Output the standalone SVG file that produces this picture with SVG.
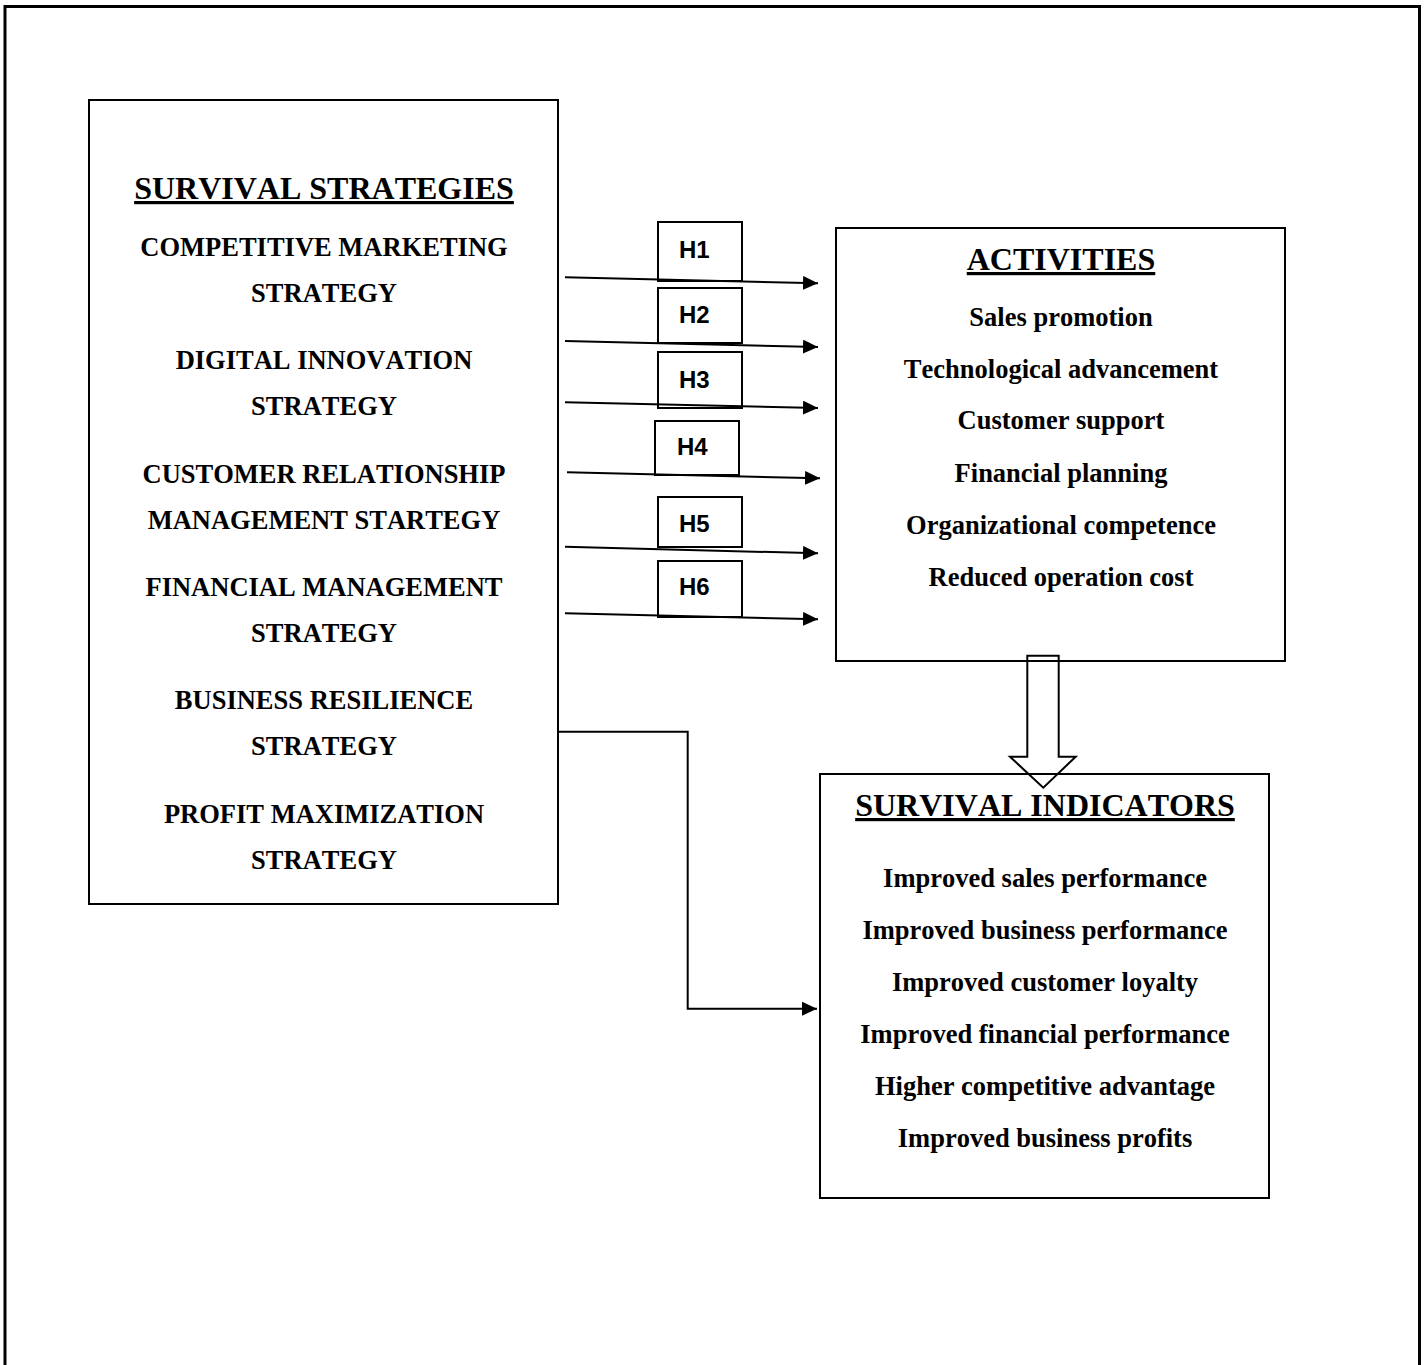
<svg xmlns="http://www.w3.org/2000/svg" width="1426" height="1365" viewBox="0 0 1426 1365">
  <style>
    text { font-kerning: none; }
    .box { fill: #ffffff; stroke: #000000; stroke-width: 2; }
    .frame { fill: none; stroke: #000000; stroke-width: 3; }
    .hbox { fill: #ffffff; stroke: #000000; stroke-width: 2; }
    .link { fill: none; stroke: #000000; stroke-width: 2; }
    .title { font-family: "Liberation Serif", "Times New Roman", serif; font-weight: bold; font-size: 32px; text-decoration: underline; text-anchor: middle; fill: #000; }
    .item { font-family: "Liberation Serif", "Times New Roman", serif; font-weight: bold; font-size: 26.5px; text-anchor: middle; fill: #000; }
    .hlabel { font-family: "Liberation Sans", Arial, sans-serif; font-weight: bold; font-size: 24px; fill: #000; }
  </style>
  <defs>
    <marker id="arrow" markerWidth="16" markerHeight="14" refX="15" refY="7" orient="auto" markerUnits="userSpaceOnUse">
      <path d="M0,0 L15,7 L0,14 Z" fill="#000"/>
    </marker>
  </defs>

  <rect width="1426" height="1365" fill="#ffffff"/>

  <!-- page frame (open at the bottom) -->
  <path class="frame" d="M5,1370 L5,6.5 L1419.5,6.5 L1419.5,1370"/>

  <!-- strategies -->
  <g id="node-strategies">
    <rect class="box" x="89" y="100" width="469" height="804"/>
    <text class="title" x="324" y="199">SURVIVAL STRATEGIES</text>
    <text class="item" x="324" y="256">COMPETITIVE MARKETING</text>
    <text class="item" x="324" y="302">STRATEGY</text>
    <text class="item" x="324" y="369">DIGITAL INNOVATION</text>
    <text class="item" x="324" y="415">STRATEGY</text>
    <text class="item" x="324" y="483">CUSTOMER RELATIONSHIP</text>
    <text class="item" x="324" y="529">MANAGEMENT STARTEGY</text>
    <text class="item" x="324" y="596">FINANCIAL MANAGEMENT</text>
    <text class="item" x="324" y="642">STRATEGY</text>
    <text class="item" x="324" y="709">BUSINESS RESILIENCE</text>
    <text class="item" x="324" y="755">STRATEGY</text>
    <text class="item" x="324" y="823">PROFIT MAXIMIZATION</text>
    <text class="item" x="324" y="869">STRATEGY</text>
  </g>

  <!-- activities -->
  <g id="node-activities">
    <rect class="box" x="836" y="228" width="449" height="433"/>
    <text class="title" x="1061" y="270">ACTIVITIES</text>
    <text class="item" x="1061" y="326">Sales promotion</text>
    <text class="item" x="1061" y="378">Technological advancement</text>
    <text class="item" x="1061" y="429">Customer support</text>
    <text class="item" x="1061" y="482">Financial planning</text>
    <text class="item" x="1061" y="534">Organizational competence</text>
    <text class="item" x="1061" y="586">Reduced operation cost</text>
  </g>

  <!-- survival indicators -->
  <g id="node-indicators">
    <rect class="box" x="820" y="774" width="449" height="424"/>
    <text class="title" x="1045" y="816">SURVIVAL INDICATORS</text>
    <text class="item" x="1045" y="887">Improved sales performance</text>
    <text class="item" x="1045" y="939">Improved business performance</text>
    <text class="item" x="1045" y="991">Improved customer loyalty</text>
    <text class="item" x="1045" y="1043">Improved financial performance</text>
    <text class="item" x="1045" y="1095">Higher competitive advantage</text>
    <text class="item" x="1045" y="1147">Improved business profits</text>
  </g>

  <!-- hypothesis labels -->
  <g id="node-h1"><rect class="hbox" x="658" y="222" width="84" height="59"/><text class="hlabel" x="679" y="258">H1</text></g>
  <g id="node-h2"><rect class="hbox" x="658" y="288" width="84" height="55"/><text class="hlabel" x="679" y="323">H2</text></g>
  <g id="node-h3"><rect class="hbox" x="658" y="352" width="84" height="56"/><text class="hlabel" x="679" y="388">H3</text></g>
  <g id="node-h4"><rect class="hbox" x="655" y="421" width="84" height="54"/><text class="hlabel" x="677" y="455">H4</text></g>
  <g id="node-h5"><rect class="hbox" x="658" y="497" width="84" height="50"/><text class="hlabel" x="679" y="532">H5</text></g>
  <g id="node-h6"><rect class="hbox" x="658" y="561" width="84" height="56"/><text class="hlabel" x="679" y="595">H6</text></g>

  <!-- connectors -->
  <g id="connectors">
    <line class="link" x1="565" y1="277.3" x2="818" y2="283.3" marker-end="url(#arrow)"/>
    <line class="link" x1="565" y1="341" x2="818" y2="347" marker-end="url(#arrow)"/>
    <line class="link" x1="565" y1="402.3" x2="818" y2="408" marker-end="url(#arrow)"/>
    <line class="link" x1="567" y1="472.3" x2="820" y2="478.3" marker-end="url(#arrow)"/>
    <line class="link" x1="565" y1="546.7" x2="818" y2="553.3" marker-end="url(#arrow)"/>
    <line class="link" x1="565" y1="613.3" x2="818" y2="619.3" marker-end="url(#arrow)"/>
    <polyline class="link" points="558,731.7 687.7,731.7 687.7,1008.7 817,1008.7" marker-end="url(#arrow)"/>
    <!-- hollow block arrow from activities to indicators; box borders show through -->
    <path d="M1027.3,655.7 L1058.7,655.7 L1058.7,756.7 L1075.7,756.7 L1043.3,787.7 L1010,756.7 L1027.3,756.7 Z" fill="none" stroke="#000" stroke-width="2"/>
  </g>
</svg>
